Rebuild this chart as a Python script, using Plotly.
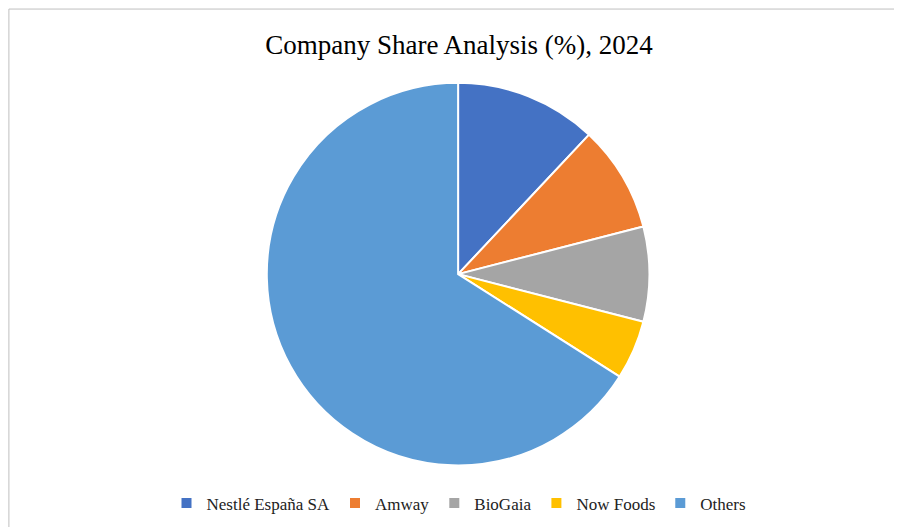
import plotly.graph_objects as go

companies = ["Nestlé España SA", "Amway", "BioGaia", "Now Foods", "Others"]
shares = [12, 9, 8, 5, 66]
colors = ["#4472C4", "#ED7D31", "#A5A5A5", "#FFC000", "#5B9BD5"]

fig = go.Figure(go.Pie(
    labels=companies,
    values=shares,
    sort=False,
    direction="clockwise",
    rotation=0,
    marker=dict(colors=colors, line=dict(color="white", width=2)),
    textinfo="none",
    hoverinfo="label+percent",
    domain=dict(x=[0.285, 0.713], y=[0.132, 0.858]),
))

fig.update_layout(
    width=902, height=527,
    title=dict(text="Company Share Analysis (%), 2024", x=0.5, y=0.93, xanchor="center", yanchor="middle",
               font=dict(family="Liberation Serif, serif", size=27, color="black")),
    font=dict(family="Liberation Serif, serif", size=17, color="#222"),
    legend=dict(orientation="h", x=0.5, xanchor="center", y=0.06, yanchor="middle",
                font=dict(size=17), itemwidth=30),
    margin=dict(l=0, r=0, t=0, b=0),
    paper_bgcolor="white",
    shapes=[dict(type="rect", xref="paper", yref="paper", x0=0.001, y0=0.002, x1=0.999, y1=0.998,
                 line=dict(color="#BFBFBF", width=1))],
)

fig.write_html("out.html")
